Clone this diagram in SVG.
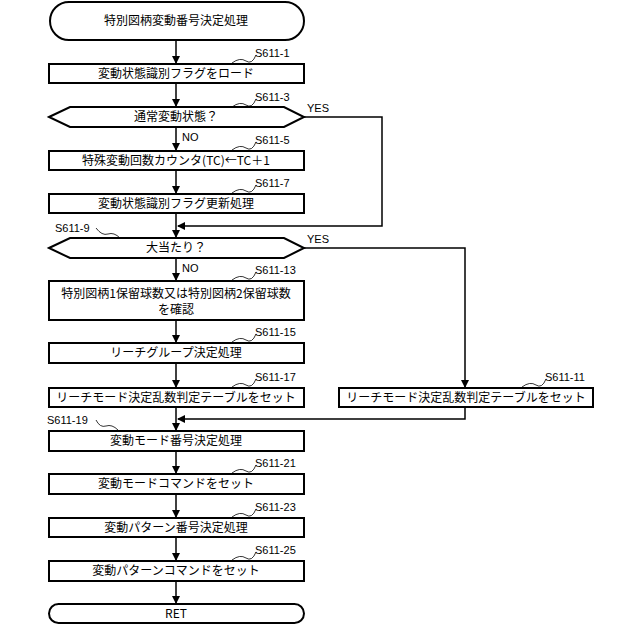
<svg xmlns="http://www.w3.org/2000/svg" width="640" height="625" viewBox="0 0 640 625">
<style>
.b{fill:#fff;stroke:#000;stroke-width:2}
.t{font-family:"Noto Sans CJK JP","Liberation Sans",sans-serif;font-size:12px;text-anchor:middle}
.l{font-family:"Liberation Sans",sans-serif;font-size:11px}
.c{fill:none;stroke:#000;stroke-width:1.5}
.s{fill:none;stroke:#000;stroke-width:0.8}
</style>
<defs><marker id="a" markerWidth="8" markerHeight="8" refX="7" refY="4" orient="auto" markerUnits="userSpaceOnUse"><path d="M0,0L8,4L0,8z"/></marker></defs>
<g id="connectors">
<path class="c" d="M176,40V63" marker-end="url(#a)"/>
<path class="c" d="M176,83V106" marker-end="url(#a)"/>
<path class="c" d="M176,127V150" marker-end="url(#a)"/>
<path class="c" d="M176,170V193" marker-end="url(#a)"/>
<path class="c" d="M176,213V237" marker-end="url(#a)"/>
<path class="c" d="M304,117H382V226H178" marker-end="url(#a)"/>
<path class="c" d="M176,257V280" marker-end="url(#a)"/>
<path class="c" d="M304,248H465V387" marker-end="url(#a)"/>
<path class="c" d="M176,320V342" marker-end="url(#a)"/>
<path class="c" d="M176,363V387" marker-end="url(#a)"/>
<path class="c" d="M176,407V430" marker-end="url(#a)"/>
<path class="c" d="M465,407V419H178" marker-end="url(#a)"/>
<path class="c" d="M176,451V473" marker-end="url(#a)"/>
<path class="c" d="M176,494V517" marker-end="url(#a)"/>
<path class="c" d="M176,537V560" marker-end="url(#a)"/>
<path class="c" d="M176,581V603" marker-end="url(#a)"/>
<text class="l" x="307" y="112">YES</text>
<text class="l" x="307" y="243">YES</text>
<text class="l" x="182" y="141">NO</text>
<text class="l" x="182" y="272">NO</text>
</g>
<g id="start"><rect class="b" x="50" y="2" width="254" height="38" rx="19"/><text class="t" x="176" y="25">特別図柄変動番号決定処理</text></g>
<g id="s1"><rect class="b" x="49" y="64" width="255" height="19"/><text class="t" x="176" y="78">変動状態識別フラグをロード</text><path class="s" d="M232,63q8,-6 14,-2t10,-6"/><text class="l" x="255" y="57">S611-1</text></g>
<g id="s3"><path class="b" d="M49,117L70,107H284L304,117L284,127H70z"/><text class="t" x="176" y="121">通常変動状態？</text><path class="s" d="M232,107q8,-6 14,-2t10,-6"/><text class="l" x="255" y="101">S611-3</text></g>
<g id="s5"><rect class="b" x="49" y="151" width="255" height="19"/><text class="t" x="176" y="165">特殊変動回数カウンタ(TC)←TC＋1</text><path class="s" d="M232,150q8,-6 14,-2t10,-6"/><text class="l" x="255" y="144">S611-5</text></g>
<g id="s7"><rect class="b" x="49" y="194" width="255" height="19"/><text class="t" x="176" y="208">変動状態識別フラグ更新処理</text><path class="s" d="M232,193q8,-6 14,-2t10,-6"/><text class="l" x="255" y="187">S611-7</text></g>
<g id="s9"><path class="b" d="M49,248L70,238H284L304,248L284,258H70z"/><text class="t" x="176" y="252">大当たり？</text><path class="s" d="M120,238q-6,-6 -12,-4t-12,-6"/><text class="l" x="55" y="232">S611-9</text></g>
<g id="s13"><rect class="b" x="49" y="281" width="255" height="39"/><text class="t" x="176" y="298">特別図柄1保留球数又は特別図柄2保留球数</text><text class="t" x="176" y="314">を確認</text><path class="s" d="M232,280q8,-6 14,-2t10,-6"/><text class="l" x="255" y="274">S611-13</text></g>
<g id="s15"><rect class="b" x="49" y="343" width="255" height="20"/><text class="t" x="176" y="357">リーチグループ決定処理</text><path class="s" d="M232,342q8,-6 14,-2t10,-6"/><text class="l" x="255" y="336">S611-15</text></g>
<g id="s17"><rect class="b" x="49" y="388" width="255" height="19"/><text class="t" x="176" y="402">リーチモード決定乱数判定テーブルをセット</text><path class="s" d="M232,387q8,-6 14,-2t10,-6"/><text class="l" x="255" y="381">S611-17</text></g>
<g id="s11"><rect class="b" x="339" y="388" width="254" height="19"/><text class="t" x="466" y="402">リーチモード決定乱数判定テーブルをセット</text><path class="s" d="M522,387q8,-6 14,-2t10,-6"/><text class="l" x="545" y="381">S611-11</text></g>
<g id="s19"><rect class="b" x="49" y="431" width="255" height="20"/><text class="t" x="176" y="445">変動モード番号決定処理</text><path class="s" d="M118,430q-6,-6 -12,-4t-10,-6"/><text class="l" x="47" y="424">S611-19</text></g>
<g id="s21"><rect class="b" x="49" y="474" width="255" height="20"/><text class="t" x="176" y="488">変動モードコマンドをセット</text><path class="s" d="M232,473q8,-6 14,-2t10,-6"/><text class="l" x="255" y="467">S611-21</text></g>
<g id="s23"><rect class="b" x="49" y="518" width="255" height="19"/><text class="t" x="176" y="532">変動パターン番号決定処理</text><path class="s" d="M232,517q8,-6 14,-2t10,-6"/><text class="l" x="255" y="511">S611-23</text></g>
<g id="s25"><rect class="b" x="49" y="561" width="255" height="20"/><text class="t" x="176" y="575">変動パターンコマンドをセット</text><path class="s" d="M232,560q8,-6 14,-2t10,-6"/><text class="l" x="255" y="554">S611-25</text></g>
<g id="end"><rect class="b" x="49" y="604" width="255" height="19" rx="9.5"/><text class="t" x="176" y="618">RET</text></g>
</svg>
